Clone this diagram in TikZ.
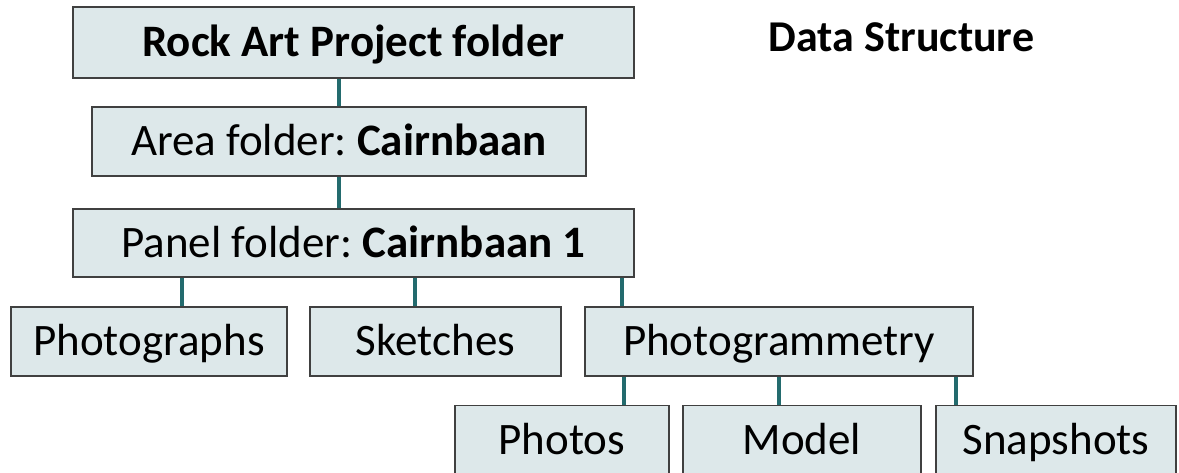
\documentclass[tikz,border=0pt]{standalone}
\usepackage{fontspec}
\setmainfont{Carlito}
\frenchspacing
\definecolor{boxfill}{HTML}{DDE8EA}
\definecolor{boxline}{HTML}{404040}
\definecolor{linkcol}{HTML}{236B6E}
\begin{document}
\begin{tikzpicture}[x=1pt,y=-1pt,
  fbox/.style={draw=boxline,fill=boxfill,line width=1.4pt,inner sep=0pt,
    text height=28.5pt,text depth=0pt,font=\fontsize{45}{54}\selectfont,
    minimum height=69pt},
  link/.style={draw=linkcol,line width=3.5pt}]
\useasboundingbox (0,0) rectangle (1179,472);
\fill[white] (0,0) rectangle (1179,472);
\node[font=\fontsize{44}{53}\selectfont\bfseries,text height=27.7pt,text depth=0pt,inner sep=0pt] (title) at (901.5,38) {Data Structure};
\node[fbox,minimum width=561pt,minimum height=71pt] (root) at (353.5,42.5) {\bfseries Rock Art Project folder};
\node[fbox,minimum width=494pt] (area) at (339,141.5) {Area folder: \textbf{Cairnbaan}};
\node[fbox,minimum width=561pt,minimum height=68pt] (panel) at (353.5,243) {Panel folder: \textbf{Cairnbaan 1}};
\node[fbox,minimum width=276pt] (photographs) at (149,341.5) {Photographs};
\node[fbox,minimum width=251pt] (sketches) at (435.5,341.5) {Sketches};
\node[fbox,minimum width=388pt] (photogrammetry) at (779,341.5) {Photogrammetry};
\node[fbox,minimum width=214pt] (photos) at (562,440) {Photos};
\node[fbox,minimum width=238pt] (model) at (802,440) {Model};
\node[fbox,minimum width=240pt] (snapshots) at (1056,440) {Snapshots};
\coordinate (xa) at (182,0);
\coordinate (xb) at (415,0);
\coordinate (xc) at (622,0);
\coordinate (xd) at (624,0);
\coordinate (xe) at (779,0);
\coordinate (xf) at (956,0);
\draw[link] (root.south -| area.north) -- (area.north);
\draw[link] (area.south) -- (area.south |- panel.north);
\draw[link] (panel.south -| xa) -- (photographs.north -| xa);
\draw[link] (panel.south -| xb) -- (sketches.north -| xb);
\draw[link] (panel.south -| xc) -- (photogrammetry.north -| xc);
\draw[link] (photogrammetry.south -| xd) -- (photos.north -| xd);
\draw[link] (photogrammetry.south -| xe) -- (model.north -| xe);
\draw[link] (photogrammetry.south -| xf) -- (snapshots.north -| xf);
\end{tikzpicture}
\end{document}
